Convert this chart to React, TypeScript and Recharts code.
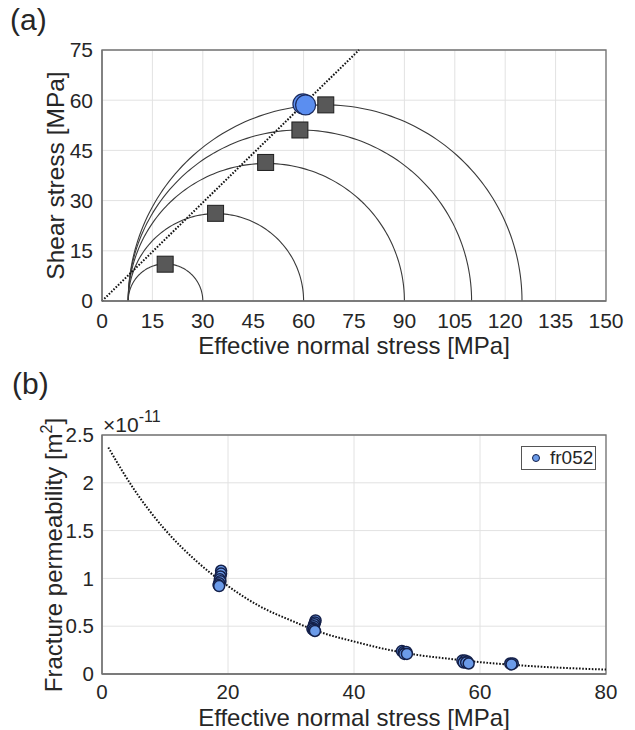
import React from "react";
import {
  ComposedChart,
  Line,
  Scatter,
  XAxis,
  YAxis,
  CartesianGrid,
  ReferenceArea,
  Legend,
  Label,
} from "recharts";

const FONT = '"Liberation Sans", Arial, Helvetica, sans-serif';
const TEXT = "#262626";
const AXIS = "#737373";
const GRID = "#e2e2e2";

// (a) Mohr circles: minimum / maximum effective principal stress [MPa]
const sigma3 = [7.8, 7.8, 7.8, 7.8, 7.8];
const sigma1 = [30, 60, 90, 110, 125];
// square markers at the top of each circle
const peakX = [18.8, 33.8, 48.7, 58.9, 66.6];
const peakY = [11.0, 26.2, 41.4, 51.1, 58.6];
// blue marker where the envelope meets the largest circle
const failX = [59.8, 60.6];
const failY = [58.9, 58.6];
// dotted failure envelope
const envelopeX = [0, 76.5];
const envelopeY = [0, 75];
const normalTicksA = [0, 15, 30, 45, 60, 75, 90, 105, 120, 135, 150];
const shearTicks = [0, 15, 30, 45, 60, 75];

// (b) permeability (x 1e-11 m^2) vs effective normal stress
const permX = [
  18.9, 18.9, 18.8, 18.7, 18.8, 18.6, 18.5, 18.6,
  33.9, 33.8, 33.7, 33.6, 33.5, 33.4, 33.6, 33.8,
  47.6, 47.9, 48.3, 48.0, 48.4,
  57.2, 57.6, 58.0, 57.4, 57.8, 58.2,
  64.8, 65.2, 65.0,
];
const permY = [
  1.08, 1.05, 1.02, 0.99, 0.97, 0.95, 0.93, 0.92,
  0.56, 0.54, 0.52, 0.5, 0.48, 0.47, 0.46, 0.45,
  0.24, 0.23, 0.23, 0.21, 0.21,
  0.14, 0.14, 0.13, 0.12, 0.12, 0.11,
  0.11, 0.11, 0.1,
];
// dotted fitted curve
const fitX = [1, 5, 10, 15, 20, 25, 30, 35, 40, 45, 50, 55, 60, 65, 70, 75, 80];
const fitY = [2.37, 1.94, 1.51, 1.18, 0.92, 0.71, 0.56, 0.43, 0.34, 0.26, 0.2, 0.16, 0.124, 0.097, 0.075, 0.059, 0.046];
const normalTicksB = [0, 20, 40, 60, 80];
const permTicks = [0, 0.5, 1, 1.5, 2, 2.5];

const toRows = (xs: number[], ys: number[]) => xs.map((x, i) => ({ x, y: ys[i] }));

// half circle through (s3, 0) and (s1, 0)
const arc = (s3: number, s1: number) => {
  const c = (s1 + s3) / 2;
  const r = (s1 - s3) / 2;
  const pts = [];
  for (let k = 0; k <= 120; k++) {
    const t = Math.PI - (Math.PI * k) / 120;
    pts.push({ x: c + r * Math.cos(t), y: r * Math.sin(t) });
  }
  return pts;
};

const tickStyle = (size: number) => ({ fontSize: size, fill: TEXT, fontFamily: FONT });

const SquareMark = (p: any) => (
  <rect x={p.cx - 8} y={p.cy - 8} width={16} height={16} fill="#585858" stroke="#1e1e1e" strokeWidth={1} />
);

const BigDot = (p: any) => (
  <circle cx={p.cx} cy={p.cy} r={10} fill="#5b8ef0" stroke="#1b2a5c" strokeWidth={1.2} />
);

const PermDot = (p: any) => (
  <circle cx={p.cx} cy={p.cy} r={5.5} fill="#6b9be9" stroke="#14204a" strokeWidth={1.5} />
);

function MohrChart() {
  return (
    <ComposedChart width={635} height={360} margin={{ top: 50, right: 29, bottom: 0, left: 0 }}>
      <CartesianGrid stroke={GRID} />
      <XAxis
        type="number"
        dataKey="x"
        domain={[0, 150]}
        ticks={normalTicksA}
        interval={0}
        height={59}
        tickSize={0}
        tickMargin={12}
        tickLine={false}
        tick={tickStyle(21)}
        axisLine={{ stroke: AXIS, strokeWidth: 1.3 }}
      >
        <Label
          content={() => (
            <text x={354} y={346} dy="0.35em" textAnchor="middle" fontSize={24} fill={TEXT} fontFamily={FONT}>
              Effective normal stress [MPa]
            </text>
          )}
        />
      </XAxis>
      <YAxis
        type="number"
        dataKey="y"
        domain={[0, 75]}
        ticks={shearTicks}
        interval={0}
        width={102}
        tickSize={0}
        tickMargin={9}
        tickLine={false}
        tick={tickStyle(21)}
        axisLine={{ stroke: AXIS, strokeWidth: 1.3 }}
      >
        <Label
          content={() => (
            <text
              transform="translate(55,175.5) rotate(-90)"
              dy="0.35em"
              textAnchor="middle"
              fontSize={24.5}
              fill={TEXT}
              fontFamily={FONT}
            >
              Shear stress [MPa]
            </text>
          )}
        />
      </YAxis>
      <ReferenceArea x1={0} x2={150} y1={0} y2={75} fill="none" stroke={AXIS} strokeWidth={1.3} />

      {sigma1.map((s1, i) => (
        <Line
          key={s1}
          data={arc(sigma3[i], s1)}
          dataKey="y"
          type="linear"
          dot={false}
          activeDot={false}
          stroke="#3a3a3a"
          strokeWidth={1.1}
          isAnimationActive={false}
        />
      ))}
      <Line
        data={toRows(envelopeX, envelopeY)}
        dataKey="y"
        type="linear"
        dot={false}
        activeDot={false}
        stroke="#111"
        strokeWidth={2}
        strokeDasharray="1.6 1.6"
        isAnimationActive={false}
      />
      <Scatter data={toRows(peakX, peakY)} dataKey="y" shape={SquareMark} isAnimationActive={false} />
      <Scatter data={toRows(failX, failY)} dataKey="y" shape={BigDot} isAnimationActive={false} />
    </ComposedChart>
  );
}

function PermChart() {
  return (
    <ComposedChart width={635} height={370} margin={{ top: 75, right: 29, bottom: 0, left: 0 }}>
      <CartesianGrid stroke={GRID} />
      <XAxis
        type="number"
        dataKey="x"
        domain={[0, 80]}
        ticks={normalTicksB}
        interval={0}
        height={56}
        tickSize={0}
        tickMargin={10}
        tickLine={false}
        tick={tickStyle(20.5)}
        axisLine={{ stroke: AXIS, strokeWidth: 1.3 }}
      >
        <Label
          content={() => (
            <text x={354} y={358} dy="0.35em" textAnchor="middle" fontSize={24} fill={TEXT} fontFamily={FONT}>
              Effective normal stress [MPa]
            </text>
          )}
        />
      </XAxis>
      <YAxis
        type="number"
        dataKey="y"
        domain={[0, 2.5]}
        ticks={permTicks}
        interval={0}
        width={102}
        tickSize={0}
        tickMargin={8}
        tickLine={false}
        tick={tickStyle(20.5)}
        axisLine={{ stroke: AXIS, strokeWidth: 1.3 }}
      >
        <Label
          content={() => (
            <g fontFamily={FONT} fill={TEXT}>
              <text transform="translate(54,195) rotate(-90)" dy="0.35em" textAnchor="middle" fontSize={24}>
                Fracture permeability [m
                <tspan dy={-10} fontSize={16}>2</tspan>
                <tspan dy={10}>]</tspan>
              </text>
              <text x={103} y={72} fontSize={21}>
                ×10
                <tspan dy={-10} fontSize={16}>-11</tspan>
              </text>
            </g>
          )}
        />
      </YAxis>
      <ReferenceArea x1={0} x2={80} y1={0} y2={2.5} fill="none" stroke={AXIS} strokeWidth={1.3} />

      <Scatter name="fr052" data={toRows(permX, permY)} dataKey="y" shape={PermDot} isAnimationActive={false} />
      <Line
        data={toRows(fitX, fitY)}
        dataKey="y"
        type="monotone"
        dot={false}
        activeDot={false}
        stroke="#111"
        strokeWidth={2}
        strokeDasharray="1.6 1.6"
        legendType="none"
        isAnimationActive={false}
      />
      <Legend
        layout="vertical"
        align="center"
        verticalAlign="middle"
        width={75}
        wrapperStyle={{ left: 521, top: 86, width: 75 }}
        content={() => (
          <div
            style={{
              boxSizing: "border-box",
              width: 75,
              height: 24,
              border: "1px solid #555",
              background: "#fff",
              display: "flex",
              alignItems: "center",
              fontFamily: FONT,
              fontSize: 19,
              color: TEXT,
            }}
          >
            <svg width={28} height={22}>
              <circle cx={14} cy={11} r={3.5} fill="#6b9be9" stroke="#14204a" strokeWidth={1} />
            </svg>
            <span>fr052</span>
          </div>
        )}
      />
    </ComposedChart>
  );
}

export default function App() {
  const panelLabel = {
    position: "absolute" as const,
    fontFamily: FONT,
    fontSize: 30,
    color: TEXT,
    lineHeight: 1,
  };
  return (
    <div style={{ position: "absolute", left: 0, top: 0, width: 635, height: 730, background: "#fff" }}>
      <div style={{ ...panelLabel, left: 10, top: 5 }}>(a)</div>
      <div style={{ position: "absolute", left: 0, top: 0 }}>
        <MohrChart />
      </div>
      <div style={{ ...panelLabel, left: 12, top: 369 }}>(b)</div>
      <div style={{ position: "absolute", left: 0, top: 360 }}>
        <PermChart />
      </div>
    </div>
  );
}
